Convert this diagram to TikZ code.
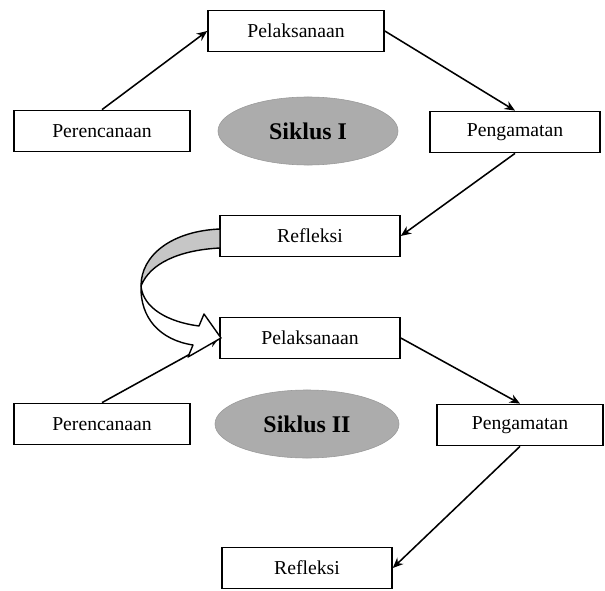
\documentclass[tikz,border=0pt]{standalone}
\usepackage{fontspec}
\setmainfont{Liberation Serif}
\usetikzlibrary{shapes.geometric,arrows.meta}

\tikzset{
  tahap/.style={draw, line width=1.1pt, minimum width=4.4cm, minimum height=1.03cm,
    inner sep=0pt, font=\fontsize{14}{16}\selectfont},
  siklus/.style={ellipse, draw=gray!80, fill=gray!65, minimum width=4.5cm,
    minimum height=1.7cm, inner sep=0pt, font=\fontsize{17}{20}\selectfont\bfseries},
  panah/.style={-{Stealth[length=2.6mm, width=2.2mm]}, line width=1.1pt}
}

\begin{document}
\begin{tikzpicture}[x=0.025cm, y=-0.025cm]
  \useasboundingbox (0,0) rectangle (605,591);

  \node[tahap] (pel1) at (296,31) {Pelaksanaan};
  \node[tahap] (per1) at (102,131) {Perencanaan};
  \node[siklus] (sik1) at (308,131) {Siklus I};
  \node[tahap, minimum width=4.25cm] (peng1) at (515,132) {Pengamatan};
  \node[tahap, minimum width=4.5cm] (ref1) at (310,236) {Refleksi};

  \node[tahap, minimum width=4.5cm] (pel2) at (310,338) {Pelaksanaan};
  \node[tahap] (per2) at (102,424) {Perencanaan};
  \node[siklus, minimum width=4.6cm] (sik2) at (307,424) {Siklus II};
  \node[tahap, minimum width=4.15cm] (peng2) at (520,425) {Pengamatan};
  \node[tahap, minimum width=4.25cm] (ref2) at (307,568) {Refleksi};

  \draw[panah] (per1.north) -- (pel1.west);
  \draw[panah] (pel1.east) -- (peng1.north);
  \draw[panah] (peng1.south) -- (ref1.east);
  \draw[panah] (per2.north) -- (pel2.west);
  \draw[panah] (pel2.east) -- (peng2.north);
  \draw[panah] (peng2.south) -- (ref2.east);

  \begin{scope}[line width=1pt, line join=round]
  \draw[fill=gray!45] (220,229) .. controls (172,231) and (141,255) .. (141,286)
    .. controls (150,263) and (180,250) .. (220,248) -- cycle;
  \draw[fill=white] (141,286) .. controls (143,308) and (168,322) .. (199,326)
    -- (204,314) -- (221,338) -- (188,357) -- (193,345)
    .. controls (160,340) and (140,318) .. (141,286) -- cycle;
  \end{scope}
\end{tikzpicture}
\end{document}
